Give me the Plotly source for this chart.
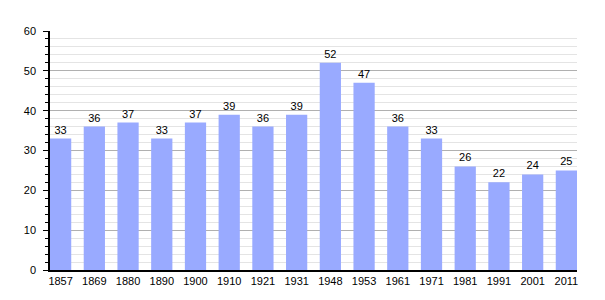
import plotly.graph_objects as go

years = ["1857", "1869", "1880", "1890", "1900", "1910", "1921", "1931",
         "1948", "1953", "1961", "1971", "1981", "1991", "2001", "2011"]
population = [33, 36, 37, 33, 37, 39, 36, 39, 52, 47, 36, 33, 26, 22, 24, 25]

gap = 0.37
fig = go.Figure(go.Bar(
    x=years, y=population,
    marker=dict(color="#99aaff", line=dict(width=0)),
    text=[str(v) for v in population],
    textposition="outside",
    textfont=dict(family="Liberation Sans, Arial, sans-serif", size=11, color="#000"),
    cliponaxis=False,
))

fig.update_layout(
    width=605, height=300,
    margin=dict(l=50, r=28, t=31, b=30),
    paper_bgcolor="white", plot_bgcolor="white",
    bargap=gap,
    showlegend=False,
    font=dict(family="Liberation Sans, Arial, sans-serif", size=11, color="#000"),
)
fig.update_xaxes(
    type="category",
    range=[-0.5 + gap / 2, len(years) - 0.5 - gap / 2],
    showline=True, linecolor="#000", linewidth=1.5,
    ticks="", showgrid=False,
    tickfont=dict(size=11),
)
fig.update_yaxes(
    range=[0, 60], dtick=10,
    showline=True, linecolor="#000", linewidth=1.5,
    ticks="outside", ticklen=5, tickcolor="#000",
    ticklabelstandoff=5,
    showgrid=True, gridcolor="#b0b0b0", gridwidth=1,
    zeroline=False,
    minor=dict(dtick=2, showgrid=True, gridcolor="#e4e4e4", gridwidth=1,
               ticks="outside", ticklen=3, tickcolor="#000"),
    tickfont=dict(size=11),
)

fig.write_html("out.html")
